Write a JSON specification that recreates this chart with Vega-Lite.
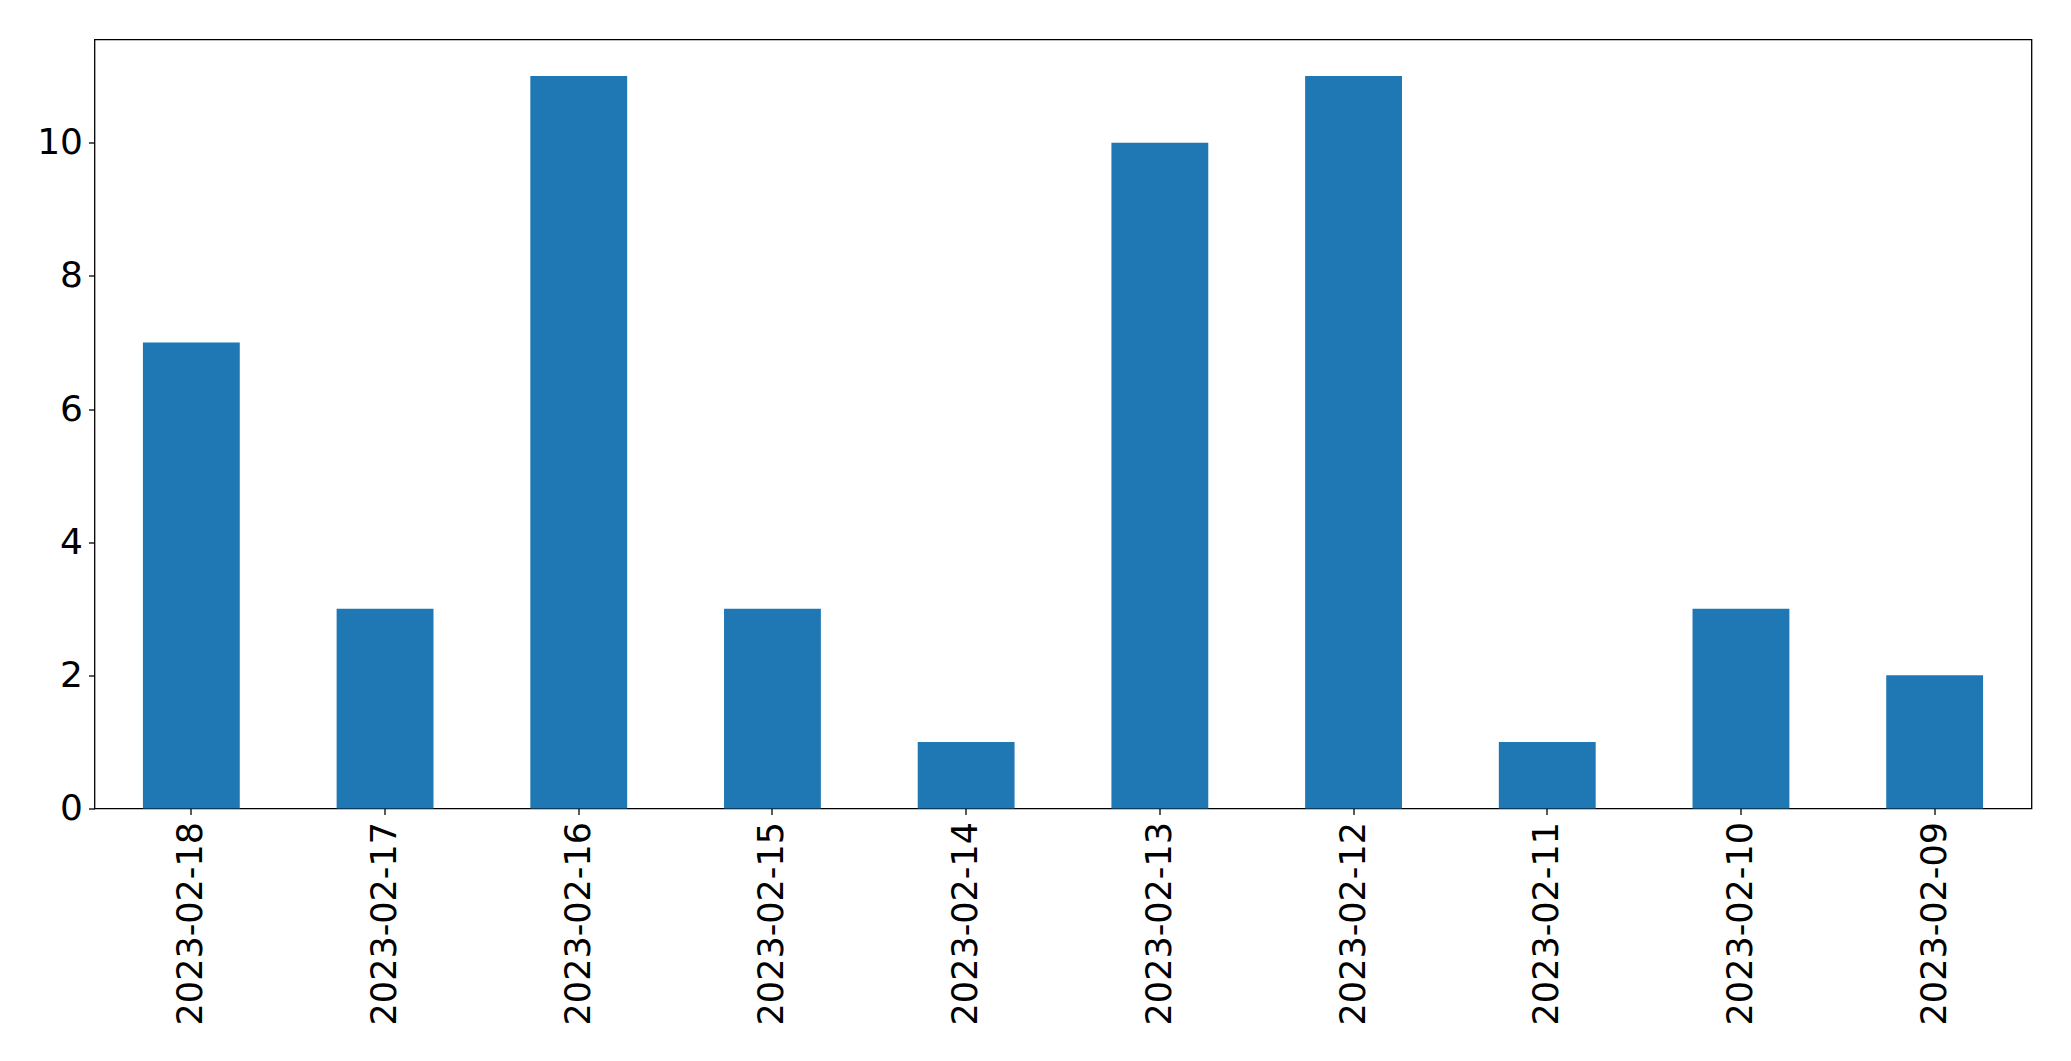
{
  "$schema": "https://vega.github.io/schema/vega-lite/v6.json",
  "width": 1937,
  "height": 769,
  "autosize": {"type": "none"},
  "padding": {"left": 94.5, "top": 39.5, "right": 39.5, "bottom": 252.5},
  "background": "white",
  "config": {
    "view": {"stroke": "black", "strokeWidth": 1.3}
  },
  "data": {
    "values": [
      {"date": "2023-02-18", "count": 7},
      {"date": "2023-02-17", "count": 3},
      {"date": "2023-02-16", "count": 11},
      {"date": "2023-02-15", "count": 3},
      {"date": "2023-02-14", "count": 1},
      {"date": "2023-02-13", "count": 10},
      {"date": "2023-02-12", "count": 11},
      {"date": "2023-02-11", "count": 1},
      {"date": "2023-02-10", "count": 3},
      {"date": "2023-02-09", "count": 2}
    ]
  },
  "mark": {"type": "bar", "color": "#1f77b4"},
  "encoding": {
    "x": {
      "field": "date", "type": "nominal", "sort": null,
      "scale": {"paddingInner": 0.5, "paddingOuter": 0.25},
      "axis": {"title": null, "grid": false, "domain": false, "tickColor": "black", "tickWidth": 1.3, "tickSize": 6, "labelColor": "black", "labelFont": "DejaVu Sans", "labelFontSize": 35, "labelLimit": 0, "labelAngle": -90, "labelPadding": 7, "labelAlign": "right", "labelBaseline": "middle"}
    },
    "y": {
      "field": "count", "type": "quantitative",
      "scale": {"domain": [0, 11.55], "nice": false, "zero": true},
      "axis": {"title": null, "grid": false, "domain": false, "tickColor": "black", "tickWidth": 1.3, "tickSize": 6, "labelColor": "black", "labelFont": "DejaVu Sans", "labelFontSize": 36, "values": [0, 2, 4, 6, 8, 10], "labelPadding": 6}
    }
  }
}
